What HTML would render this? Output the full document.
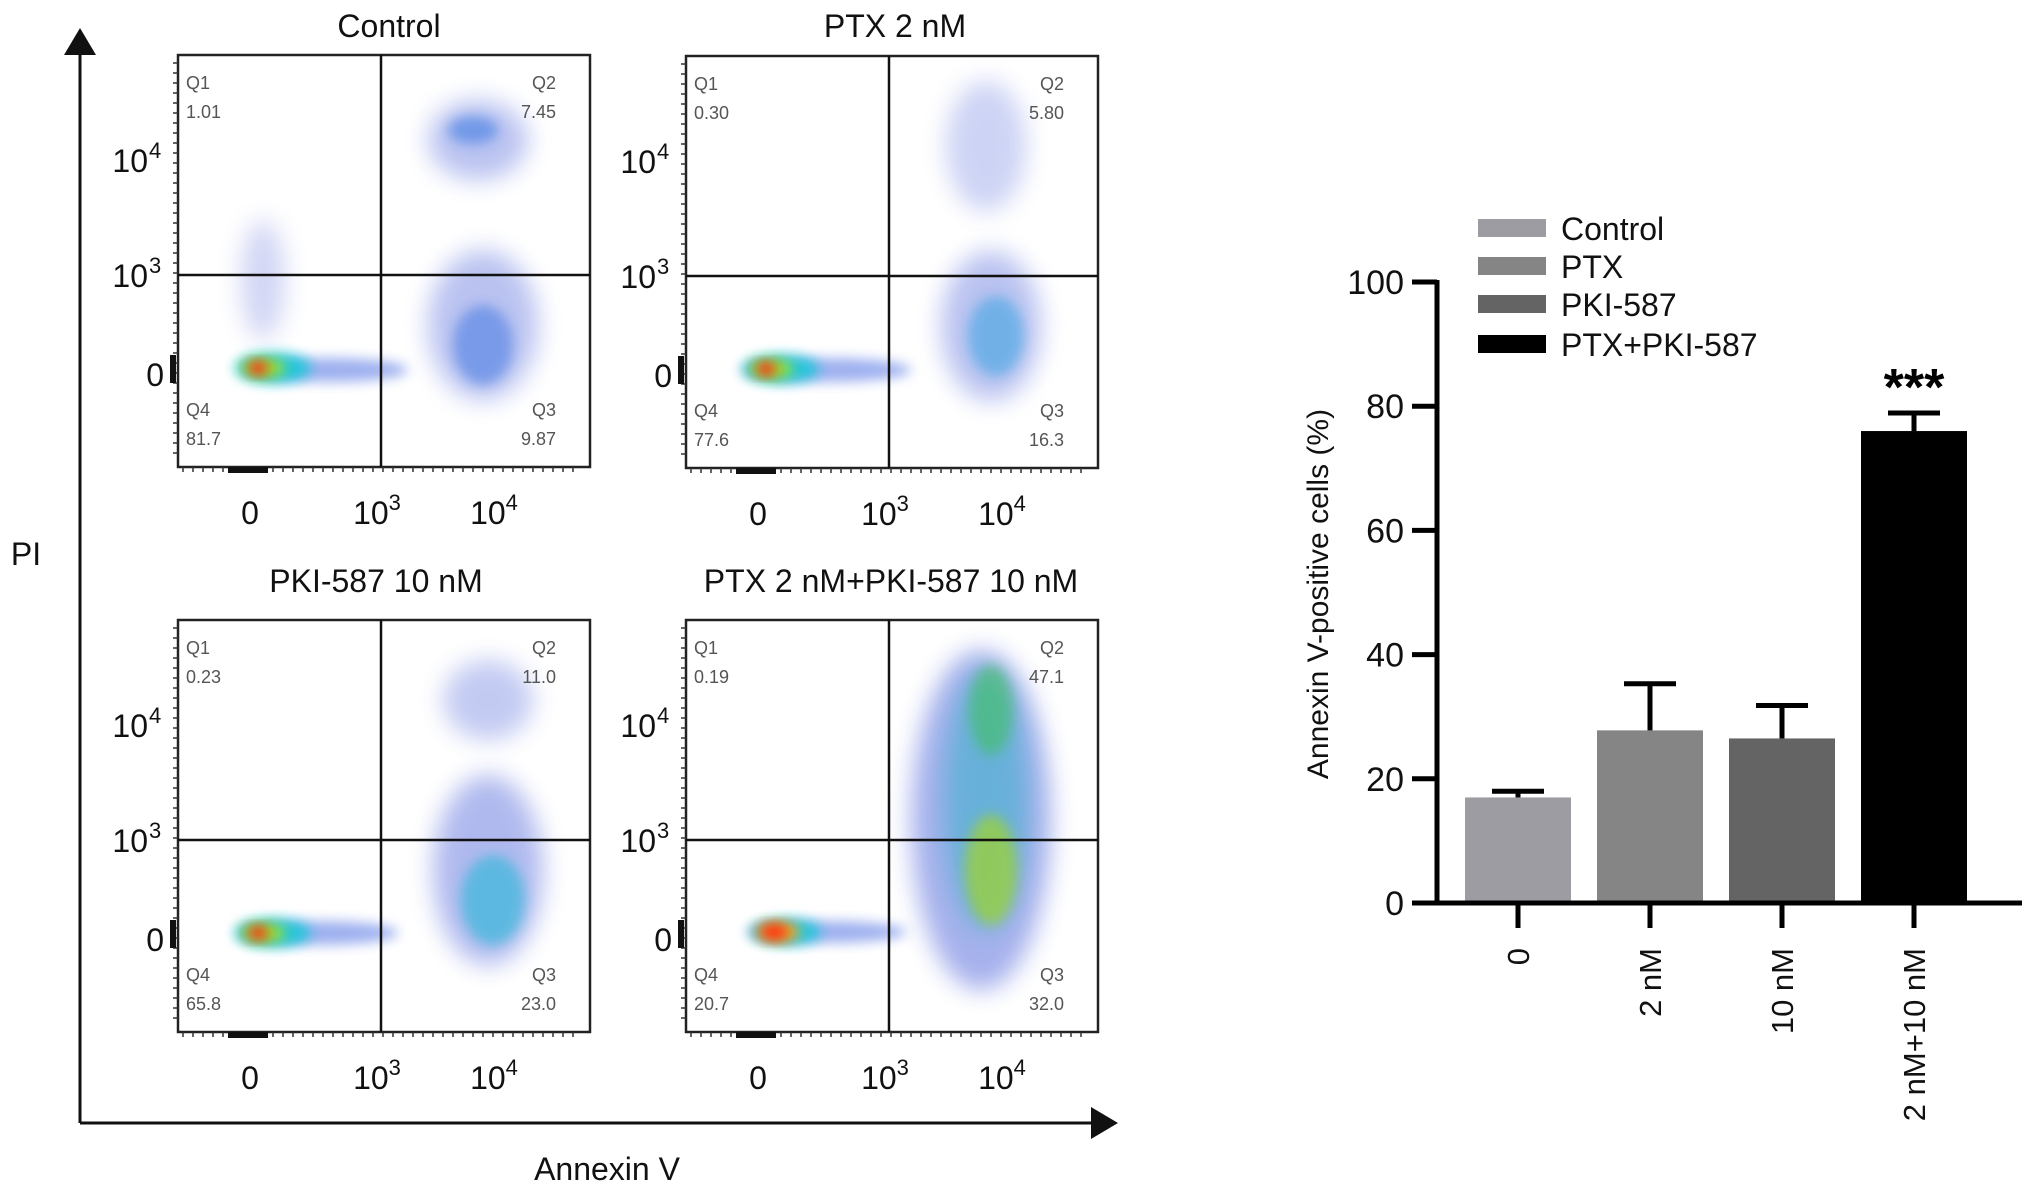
<!DOCTYPE html>
<html><head><meta charset="utf-8">
<style>
html,body{margin:0;padding:0;background:#fff;}
svg{display:block;font-family:"Liberation Sans",Arial,sans-serif;}
</style></head>
<body>
<svg id="fig" width="2032" height="1193" viewBox="0 0 2032 1193" xmlns="http://www.w3.org/2000/svg">
<defs>
<filter id="blur6" x="-50%" y="-50%" width="200%" height="200%"><feGaussianBlur stdDeviation="6"/></filter>
<filter id="blur12" x="-50%" y="-50%" width="200%" height="200%"><feGaussianBlur stdDeviation="12"/></filter>
</defs>
<g id="flow"></g>
<g id="bars"></g>
</svg>
<script>
// ---------- flow cytometry panel data ----------
const panelTitles = ["Control", "PTX 2 nM", "PKI-587 10 nM", "PTX 2 nM+PKI-587 10 nM"];
const q1Values = ["1.01", "0.30", "0.23", "0.19"];
const q2Values = ["7.45", "5.80", "11.0", "47.1"];
const q3Values = ["9.87", "16.3", "23.0", "32.0"];
const q4Values = ["81.7", "77.6", "65.8", "20.7"];
const xTickBases = ["0", "10", "10"];
const xTickExps = ["", "3", "4"];
const yTickBases = ["10", "10", "0"];
const yTickExps = ["4", "3", ""];

// ---------- bar chart data ----------
const barCategories = ["0", "2 nM", "10 nM", "2 nM+10 nM"];
const legendLabels = ["Control", "PTX", "PKI-587", "PTX+PKI-587"];
const barValues = [17.0, 27.8, 26.5, 76.0];
const barErrors = [1.0, 7.5, 5.3, 2.9];
const yTicks = [0, 20, 40, 60, 80, 100];
const sigLabels = ["", "", "", "***"];

const NS = "http://www.w3.org/2000/svg";
function mk(tag, attrs, parent) {
  const e = document.createElementNS(NS, tag);
  for (const k in attrs) e.setAttribute(k, attrs[k]);
  if (parent) parent.appendChild(e);
  return e;
}
function powLabel(t, base, exp) {
  const b = mk("tspan", {}, t); b.textContent = base;
  if (exp) { const s = mk("tspan", {dy: -14, "font-size": 22}, t); s.textContent = exp; }
}

// ---------- flow panels ----------
const flow = document.getElementById("flow");
const panelOrigins = [[178, 55], [686, 56], [178, 620], [686, 620]];
const titleCenters = [[389, 37], [895, 37], [376, 592], [891, 592]];
const W = 412, H = 412;
// density blob descriptions (plot-relative): [cx, cy, rx, ry, color, opacity, blur]
const blobs = [
  [[305,270,55,75,"#3a52d6",0.35,12],[305,290,30,40,"#2a6ae0",0.45,8],[300,85,50,40,"#3a52d6",0.35,12],[295,75,25,14,"#2a70e0",0.5,6],[85,225,22,60,"#6a78dc",0.3,12],[150,315,80,12,"#3e62e0",0.5,6],[95,313,38,15,"#19c8d8",0.9,6],[85,313,22,10,"#9ae030",1,6],[80,313,10,7,"#ff2a10",1,4]],
  [[305,270,50,75,"#3a52d6",0.35,12],[310,280,28,40,"#2aa0e0",0.5,8],[300,90,40,65,"#3a52d6",0.25,12],[140,314,85,12,"#3e62e0",0.5,6],[95,313,38,14,"#19c8d8",0.9,6],[85,313,22,10,"#9ae030",1,6],[80,313,10,7,"#ff2a10",1,4]],
  [[310,250,55,95,"#3a52d6",0.4,12],[315,280,32,45,"#28b8d8",0.6,8],[310,80,45,40,"#3a52d6",0.3,12],[140,313,80,12,"#3e62e0",0.5,6],[95,313,38,14,"#19c8d8",0.9,6],[85,313,22,10,"#9ae030",1,6],[80,313,10,7,"#ff2a10",1,4]],
  [[295,200,70,170,"#3a52d6",0.45,12],[300,180,42,130,"#2ab0c8",0.5,10],[305,250,26,55,"#9ad040",0.8,8],[305,90,22,45,"#40c060",0.6,8],[140,312,80,11,"#3e62e0",0.5,6],[100,312,35,13,"#19c8d8",0.9,6],[92,312,22,10,"#f0b020",1,6],[88,312,14,8,"#ff2a10",1,4]]
];
for (let p = 0; p < 4; p++) {
  const [ox, oy] = panelOrigins[p];
  const g = mk("g", {transform: `translate(${ox},${oy})`}, flow);
  
  
  const clip = mk("clipPath", {id: "clip" + p}, g);
  mk("rect", {x: 0, y: 0, width: W, height: H}, clip);
  const dens = mk("g", {"clip-path": `url(#clip${p})`}, g);
  
  
  blobs[p].forEach(b => {
    mk("ellipse", {cx: b[0], cy: b[1], rx: b[2], ry: b[3], fill: b[4], opacity: b[5], filter: b[6] > 8 ? "url(#blur12)" : "url(#blur6)"}, dens);
  });
  const frame = mk("rect", {x: 0, y: 0, width: W, height: H, fill: "none", stroke: "#222", "stroke-width": 2.5}, g);
  
  
  const vl = mk("line", {x1: 203, y1: 0, x2: 203, y2: H, stroke: "#111", "stroke-width": 2.5}, g);
  
  
  const hl = mk("line", {x1: 0, y1: 220, x2: W, y2: 220, stroke: "#111", "stroke-width": 2.5}, g);
  
  
  for (let t = 0; t < 40; t++) {
    const yy = 8 + t * 10;
    mk("line", {x1: -5, y1: yy, x2: 0, y2: yy, stroke: "#333", "stroke-width": 1.5}, g);
    const xx = 5 + t * 10;
    mk("line", {x1: xx, y1: H, x2: xx, y2: H + 5, stroke: "#333", "stroke-width": 1.5}, g);
  }
  mk("rect", {x: -8, y: 300, width: 6, height: 28, fill: "#111"}, g);
  mk("rect", {x: 50, y: H, width: 40, height: 6, fill: "#111"}, g);
  const yt = [105, 220, 319];
  yTickBases.forEach((lab, i) => {
    const t = mk("text", {x: yTickExps[i] ? -30 : -14, y: yt[i] + 12, "text-anchor": "end", "font-size": 32, fill: "#111"}, g);
    t.textContent = lab;
    
    
    if (yTickExps[i]) {
      const s = mk("text", {x: -29, y: yt[i] - 2, "font-size": 22, fill: "#111"}, g);
      s.textContent = yTickExps[i];
      
      
    }
  });
  const xt = [72, 205, 322];
  xTickBases.forEach((lab, i) => {
    const t = mk("text", {x: xt[i] - (xTickExps[i] ? 6 : 0), y: H + 57, "text-anchor": "middle", "font-size": 32, fill: "#111"}, g);
    powLabel(t, lab, xTickExps[i]);
    
    
  });
  const ql = [["Q1", q1Values[p], 8, 28, "start"], ["Q2", q2Values[p], 378, 28, "end"], ["Q4", q4Values[p], 8, 355, "start"], ["Q3", q3Values[p], 378, 355, "end"]];
  ql.forEach(q => {
    const a = mk("text", {x: q[2], y: q[3] + 6, "text-anchor": q[4], "font-size": 18, fill: "#555"}, g);
    a.textContent = q[0];
    
    
    const b = mk("text", {x: q[2], y: q[3] + 35, "text-anchor": q[4], "font-size": 18, fill: "#555"}, g);
    b.textContent = q[1];
    
    
  });
  const tt = mk("text", {x: titleCenters[p][0], y: titleCenters[p][1], "text-anchor": "middle", "font-size": 32, fill: "#111"}, flow);
  tt.textContent = panelTitles[p];
  
  
}
const ax = mk("g", {}, flow);


mk("line", {x1: 80, y1: 50, x2: 80, y2: 1123, stroke: "#111", "stroke-width": 3}, ax);
mk("polygon", {points: "64,55 96,55 80,28", fill: "#111"}, ax);
mk("line", {x1: 80, y1: 1123, x2: 1095, y2: 1123, stroke: "#111", "stroke-width": 3}, ax);
mk("polygon", {points: "1091,1107 1091,1139 1118,1123", fill: "#111"}, ax);
const pi = mk("text", {x: 26, y: 565, "text-anchor": "middle", "font-size": 32, fill: "#111"}, ax);
pi.textContent = "PI";


const anx = mk("text", {x: 607, y: 1180, "text-anchor": "middle", "font-size": 32, fill: "#111"}, ax);
anx.textContent = "Annexin V";



// ---------- bar chart ----------
const bars = document.getElementById("bars");
const axX = 1437, y0 = 903, y100 = 282;
const yScale = v => y0 - (v / 100) * (y0 - y100);
const barStart = 1518, barStep = 132;
const xScale = i => barStart + i * barStep;
const barW = 106;
const barColors = ["#9d9ca2", "#858585", "#646464", "#000000"];

barValues.forEach((v, i) => {
  const cx = xScale(i);
  const r = mk("rect", {x: cx - barW / 2, y: yScale(v), width: barW, height: y0 - yScale(v), fill: barColors[i]}, bars);
  
  
  const top = yScale(v + barErrors[i]);
  const e = mk("g", {}, bars);
  
  
  mk("line", {x1: cx, y1: yScale(v), x2: cx, y2: top, stroke: "#000", "stroke-width": 5}, e);
  mk("line", {x1: cx - 26, y1: top, x2: cx + 26, y2: top, stroke: "#000", "stroke-width": 5}, e);
  if (sigLabels[i]) {
    const s = mk("text", {x: cx, y: top - 8, "text-anchor": "middle", "font-size": 52, "font-weight": "bold", fill: "#000"}, bars);
    s.textContent = sigLabels[i];
    
    
  }
  const tk = mk("line", {x1: cx, y1: y0, x2: cx, y2: y0 + 25, stroke: "#000", "stroke-width": 5}, bars);
  
  
  const lb = mk("text", {x: 0, y: 0, "text-anchor": "end", "font-size": 31, fill: "#111", transform: `translate(${cx + 11},${y0 + 45}) rotate(-90)`}, bars);
  lb.textContent = barCategories[i];
  
  
});
const yax = mk("line", {x1: axX, y1: y100 - 2, x2: axX, y2: y0 + 2.5, stroke: "#000", "stroke-width": 5}, bars);


const xax = mk("line", {x1: 1412, y1: y0, x2: 2022, y2: y0, stroke: "#000", "stroke-width": 5}, bars);


yTicks.forEach(v => {
  const y = yScale(v);
  mk("line", {x1: 1412, y1: y, x2: axX, y2: y, stroke: "#000", "stroke-width": 5}, bars);
  const t = mk("text", {x: 1404, y: y + 12, "text-anchor": "end", "font-size": 34, fill: "#111"}, bars);
  t.textContent = v;
  
  
});
const ytl = mk("text", {x: 0, y: 0, "text-anchor": "middle", "font-size": 30, fill: "#111", transform: "translate(1328,594) rotate(-90)"}, bars);
ytl.textContent = "Annexin V-positive cells (%)";


const legRows = [228, 266, 304, 344];
legendLabels.forEach((lab, i) => {
  const g = mk("g", {}, bars);
  
  
  mk("rect", {x: 1478, y: legRows[i] - 9, width: 68, height: 18, fill: barColors[i]}, g);
  const t = mk("text", {x: 1561, y: legRows[i] + 12, "font-size": 32, fill: "#111"}, g);
  t.textContent = lab;
});
</script>
</body></html>
